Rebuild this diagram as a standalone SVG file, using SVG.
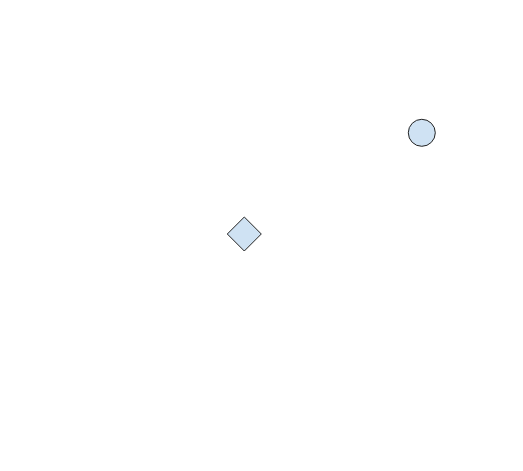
<svg xmlns="http://www.w3.org/2000/svg" width="523" height="471" viewBox="0 0 523 471">
<style>
.n{fill:#cfe2f3;stroke:#222;stroke-width:1}
</style>
<rect width="523" height="471" fill="#fff"/>
<g id="connectors"></g>
<g id="circle"><circle class="n" cx="421.8" cy="132.8" r="13.5"/></g>
<g id="diamond"><polygon class="n" points="244.3,217 261.3,234 244.3,251 227.3,234"/></g>
</svg>
